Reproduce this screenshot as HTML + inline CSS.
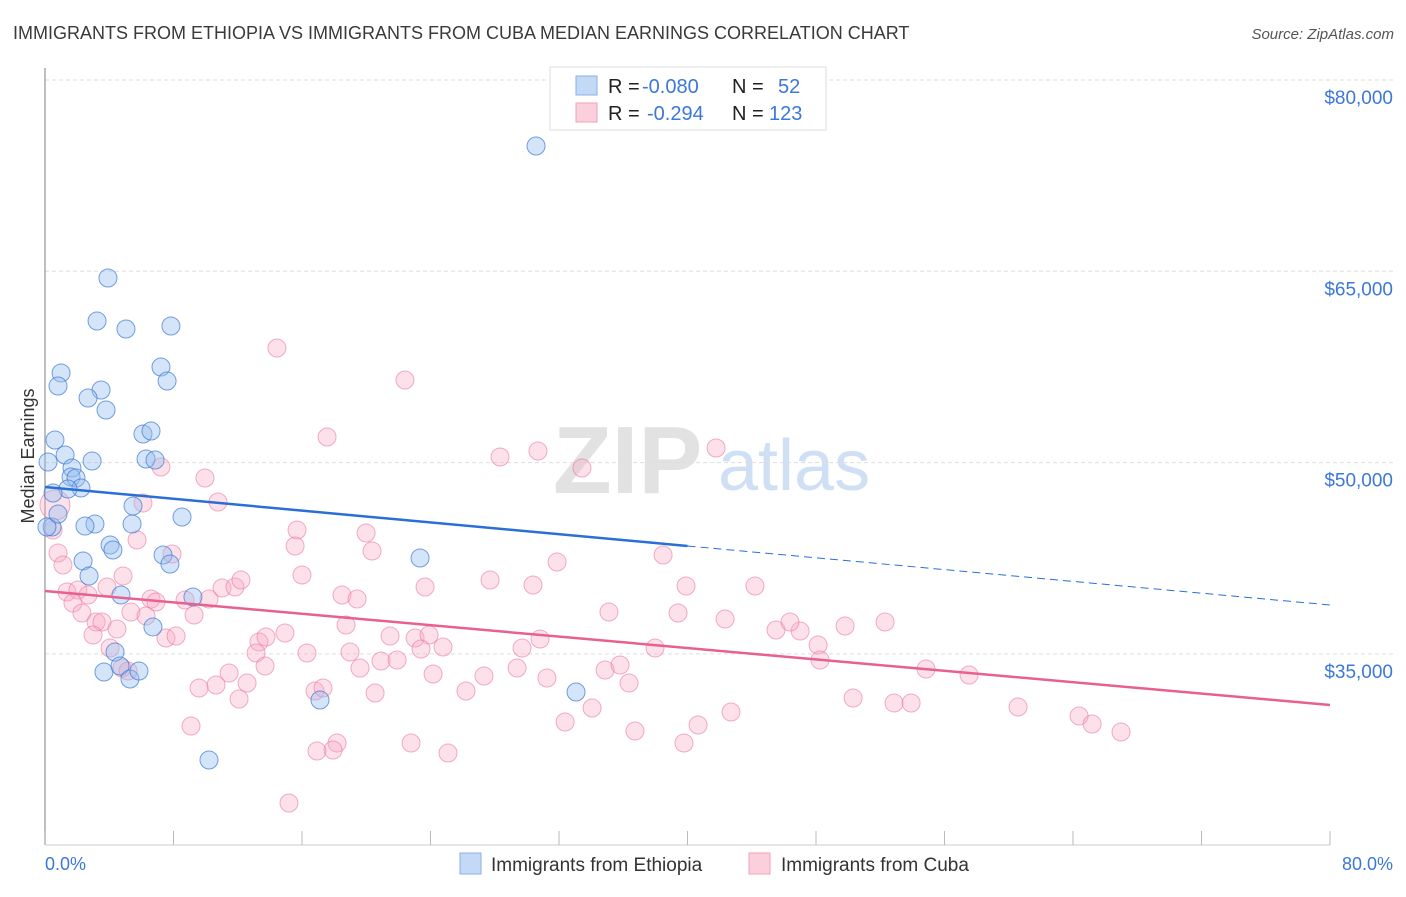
<!DOCTYPE html>
<html><head><meta charset="utf-8"><style>
body{margin:0;background:#fff;font-family:"Liberation Sans",sans-serif;}
svg text{font-family:"Liberation Sans",sans-serif;}
</style></head><body>
<svg id="chart" width="1406" height="892" viewBox="0 0 1406 892" xmlns="http://www.w3.org/2000/svg">
<text x="13" y="39" font-size="18" fill="#3a3a3a">IMMIGRANTS FROM ETHIOPIA VS IMMIGRANTS FROM CUBA MEDIAN EARNINGS CORRELATION CHART</text>
<text x="1394" y="39" font-size="15" fill="#555" text-anchor="end" font-style="italic">Source: ZipAtlas.com</text>
<g>
<text x="553" y="493" font-size="96" font-family="Liberation Serif,serif" font-weight="bold" fill="#e2e2e2">ZIP</text>
<text x="718" y="490" font-size="72" fill="#cfe0f5">atlas</text>
</g>
<g id="grid"></g>
<line x1="45" y1="68" x2="45" y2="845" stroke="#aaa" stroke-width="1.5"/>
<line x1="45" y1="845" x2="1330" y2="845" stroke="#ccc" stroke-width="1"/>
<g id="xticks"></g>
<text transform="translate(34,456) rotate(-90)" font-size="18" fill="#333" text-anchor="middle">Median Earnings</text>
<text x="45" y="870" font-size="18" fill="#3b78d8">0.0%</text>
<text x="1393" y="870" font-size="18" fill="#3b78d8" text-anchor="end">80.0%</text>
<g id="pink"></g>
<g id="blue"></g>
<g id="trends"></g>
<g>
<rect x="550" y="67" width="276" height="63" fill="#fff" stroke="#ddd"/>
<rect x="576" y="76" width="21" height="19" fill="#c4d9f5" stroke="#8ab0e8"/>
<rect x="576" y="103" width="21" height="19" fill="#fbd0dc" stroke="#f0a0b8"/>
<text x="608" y="93" font-size="20" fill="#222">R = </text><text x="642" y="93" font-size="20" fill="#3b78d8">-0.080</text>
<text x="732" y="93" font-size="20" fill="#222">N = </text><text x="778" y="93" font-size="20" fill="#3b78d8">52</text>
<text x="608" y="120" font-size="20" fill="#222">R = </text><text x="647" y="120" font-size="20" fill="#3b78d8">-0.294</text>
<text x="732" y="120" font-size="20" fill="#222">N = </text><text x="769" y="120" font-size="20" fill="#3b78d8">123</text>
</g>
<g>
<rect x="460" y="853" width="21" height="21" fill="#c4d9f5" stroke="#8ab0e8"/>
<text x="491" y="871" font-size="19" fill="#333">Immigrants from Ethiopia</text>
</g>
<g>
<rect x="749" y="853" width="21" height="21" fill="#fbd0dc" stroke="#f0a0b8"/>
<text x="781" y="871" font-size="19" fill="#333">Immigrants from Cuba</text>
</g>
</svg>
<script>
const yTicks=[80000,65000,50000,35000];
const yTickLabels=["$80,000","$65,000","$50,000","$35,000"];
const xTicks=[0,8,16,24,32,40,48,56,64,72,80];
const blueX=[30.57,3.92,3.24,5.04,7.84,1.00,0.81,7.22,7.60,3.49,2.68,3.80,0.62,6.10,6.60,0.19,1.25,6.29,6.85,2.93,1.68,1.62,1.93,2.24,1.43,0.50,0.44,3.11,2.49,5.48,5.42,8.53,4.05,4.23,7.35,7.78,2.37,2.74,4.73,9.21,6.72,4.36,3.67,4.67,5.29,5.85,23.35,33.06,17.12,10.21,0.12,0.81];
const blueY=[74825,64475,61103,60476,60711,57026,56007,57496,56399,55693,55066,54125,51772,52243,52478,50047,50596,50283,50204,50126,49577,48871,48793,48009,47930,47617,44951,45186,45029,46597,45186,45735,43539,43147,42755,42050,42285,41109,39619,39462,37110,35149,33581,34052,33032,33660,42520,32013,31386,26681,44951,45970];
const pinkX=[14.44,22.41,17.56,9.96,7.22,10.77,0.62,0.50,6.10,5.73,15.69,15.57,19.99,20.36,0.81,1.12,7.91,4.86,16.00,23.66,3.86,1.37,2.05,2.68,1.74,2.30,6.60,6.91,8.72,9.28,10.21,11.02,11.83,12.20,18.49,19.43,5.35,3.18,3.55,4.48,2.99,6.29,7.53,8.16,14.94,18.74,21.48,23.04,23.91,24.78,23.41,13.32,13.76,13.14,13.70,16.31,18.99,19.61,20.92,21.92,24.16,4.05,4.79,5.17,11.46,12.58,10.65,9.59,12.08,16.81,17.31,20.55,9.09,22.79,18.18,17.93,16.93,15.19,25.09,28.33,30.69,33.43,41.78,31.88,38.48,27.71,30.38,39.91,44.20,35.11,39.41,42.34,45.51,47.01,46.38,49.81,52.30,30.82,29.70,37.98,48.13,48.25,34.87,35.80,29.39,27.33,31.25,36.36,26.21,54.85,57.53,50.31,52.86,53.92,60.58,64.38,65.19,66.99,32.38,34.06,36.73,39.78,40.66,42.71];
const pinkY=[58986,56477,52008,48793,49655,46911,46676,44715,46833,43931,44715,43461,44480,43069,42912,41971,42834,41109,41187,40246,40246,39854,40011,39619,38992,38207,39305,39070,39227,38051,39305,40168,40246,40795,39619,39305,38286,37502,37502,36953,36482,37972,36247,36404,36639,37267,36404,36247,36482,35542,35385,35934,36326,35071,34052,35071,35149,33895,34444,34522,33424,35463,33895,33660,33503,32719,32562,32327,31464,32091,32327,31935,29347,28014,28014,27465,27387,23310,27230,50439,50910,49577,51145,42206,42755,40795,40403,40325,40325,38286,38207,37737,36874,36796,37502,37188,37502,36169,35463,35463,35698,34522,33738,34130,33895,33268,33111,32719,32091,33817,33346,31543,31151,31151,30837,30131,29504,28877,29661,30759,28955,28014,29426,30445];
const blueTrend=[48086,38835];
const pinkTrend=[39932,30994];
const blueSolidEnd=40;

const NS="http://www.w3.org/2000/svg";
function xs(p){return 45+p*1285/80;}
function ys(v){return 80+(80000-v)*191.3/15000;}
function mk(tag,attrs,parent){const e=document.createElementNS(NS,tag);for(const k in attrs)e.setAttribute(k,attrs[k]);parent.appendChild(e);return e;}
const grid=document.getElementById('grid');
yTicks.forEach((v,i)=>{
  const l=mk('line',{x1:45,x2:1395,y1:ys(v),y2:ys(v),stroke:'#ddd','stroke-dasharray':'4,3'},grid);
  
  
  const t=mk('text',{x:1393,y:ys(v)+24,'font-size':19,fill:'#3b78d8','text-anchor':'end'},grid);
  t.textContent=yTickLabels[i];
  
  
});
const xt=document.getElementById('xticks');
xTicks.forEach(p=>{
  const l=mk('line',{x1:xs(p),x2:xs(p),y1:831,y2:845,stroke:'#bbb'},xt);
  
  
});
const pg=document.getElementById('pink');
pinkX.forEach((p,i)=>{
  const c=mk('circle',{cx:xs(p),cy:ys(pinkY[i]),r:(i===6?15:9),fill:'rgba(248,170,195,0.35)',stroke:'rgba(235,120,160,0.6)','stroke-width':1},pg);
  
  
});
const bg=document.getElementById('blue');
blueX.forEach((p,i)=>{
  const c=mk('circle',{cx:xs(p),cy:ys(blueY[i]),r:9,fill:'rgba(150,190,240,0.4)',stroke:'rgba(60,120,210,0.7)','stroke-width':1},bg);
  
  
});
const tg=document.getElementById('trends');
function ty(tr,p){return tr[0]+(tr[1]-tr[0])*p/80;}
const b1=mk('line',{x1:xs(0),y1:ys(ty(blueTrend,0)),x2:xs(blueSolidEnd),y2:ys(ty(blueTrend,blueSolidEnd)),stroke:'#2a6fd6','stroke-width':2.5},tg);


const b2=mk('line',{x1:xs(blueSolidEnd),y1:ys(ty(blueTrend,blueSolidEnd)),x2:xs(80),y2:ys(ty(blueTrend,80)),stroke:'#2a6fd6','stroke-width':1,'stroke-dasharray':'8,5'},tg);


const p1=mk('line',{x1:xs(0),y1:ys(ty(pinkTrend,0)),x2:xs(80),y2:ys(ty(pinkTrend,80)),stroke:'#e8608e','stroke-width':2.5},tg);


</script>
</body></html>
